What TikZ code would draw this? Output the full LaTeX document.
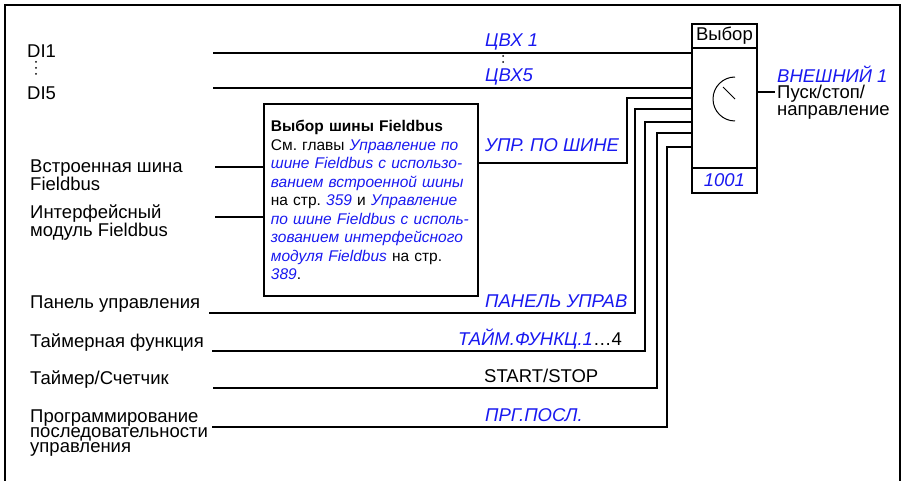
\documentclass[tikz,border=0pt]{standalone}
\usepackage{fontspec}
\setmainfont{Liberation Sans}
\frenchspacing
\definecolor{refblue}{RGB}{25,25,240}
\newcommand{\refbl}[1]{{\color{refblue}\itshape #1}}
\begin{document}
\begin{tikzpicture}[x=1pt, y=-1pt,
  wire/.style={line width=1.8pt},
  lbl/.style={anchor=west, inner sep=0pt, align=left, font=\fontsize{18.5}{16}\selectfont},
  sig/.style={lbl, text=refblue, font=\fontsize{18.5}{16}\selectfont\itshape},
  blk/.style={draw, wire, minimum width=65, anchor=north west, inner sep=0pt, font=\fontsize{18.5}{16}\selectfont}
]
\useasboundingbox (0,0) rectangle (903,481);
\draw[line width=1.2pt] (5,481) -- (5,5) -- (900,5) -- (900,481);

\node[blk, minimum height=24] (selhead) at (691,23) {Выбор};
\node[blk, minimum height=120] (selbody) at (691,47) {};
\node[blk, minimum height=25, text=refblue, font=\fontsize{18.5}{16}\selectfont\itshape] (selfoot) at (691,167) {1001};
\draw[line width=1pt] (735,121) arc[start angle=90, end angle=270, radius=22];
\draw[line width=1pt] (735,99) -- (723,87);

\node[draw, wire, anchor=north west, minimum width=214, minimum height=192, text width=200,
  inner xsep=7, align=left, font=\fontsize{15.5}{18.5}\selectfont] (fbsel) at (263,103) {%
  \textbf{Выбор шины Fieldbus}\\
  См. главы \refbl{Управление по}\\
  \refbl{шине Fieldbus с использо-}\\
  \refbl{ванием встроенной шины}\\
  на стр. \refbl{359} и \refbl{Управление}\\
  \refbl{по шине Fieldbus с исполь-}\\
  \refbl{зованием интерфейсного}\\
  \refbl{модуля Fieldbus} на стр.\\
  \refbl{389}.};

\node[lbl] (ldi1) at (27,51) {DI1};
\node[lbl] (ldi5) at (27,93) {DI5};
\foreach \yy in {62,68,74} \fill (36,\yy) circle (1);
\node[lbl] (lfbint) at (30,175) {Встроенная шина\\Fieldbus};
\node[lbl] (lfbext) at (30,222.5) {Интерфейсный\\модуль Fieldbus};
\node[lbl] (lpan) at (30,304) {Панель управления};
\node[lbl] (ltfn) at (30,343) {Таймерная функция};
\node[lbl] (ltcn) at (30,380) {Таймер/Счетчик};
\node[lbl, font=\fontsize{18.5}{15}\selectfont] (lseq) at (30,433.5) {Программирование\\последовательности\\управления};

\coordinate (di1) at (213,53);
\coordinate (di5) at (213,88);
\coordinate (fbint) at (215,167);
\coordinate (fbext) at (215,217);
\coordinate (pan) at (209,313);
\coordinate (tfn) at (212,351);
\coordinate (tcn) at (213,388);
\coordinate (seq) at (212,427);

\draw[wire] (di1) -- (di1 -| selbody.west);
\draw[wire] (di5) -- (di5 -| selbody.west);
\draw[wire] (fbint) -- (fbint -| fbsel.west);
\draw[wire] (fbext) -- (fbext -| fbsel.west);
\draw[wire] (fbsel.east |- 0,163) -| (627,98) -- (selbody.west |- 0,98);
\foreach \src/\xx/\yy in {pan/635/109, tfn/645/122, tcn/657/133, seq/667/147}
  \draw[wire] (\src) -| (\xx,\yy) -- (selbody.west |- 0,\yy);
\draw[wire] (selbody.east |- 0,92) -- ++(17,0) coordinate (selout);

\node[sig] (scvx1) at (485,42) {ЦВХ 1};
\node[sig] (scvx5) at (485,77) {ЦВХ5};
\foreach \yy in {56,62} \fill (503,\yy) circle (1);
\node[sig] (supr) at (485,145) {УПР. ПО ШИНЕ};
\node[sig] (span) at (485,301) {ПАНЕЛЬ УПРАВ};
\node[sig] (stfn) at (458,339) {ТАЙМ.ФУНКЦ.1\upshape\color{black}…4};
\node[lbl] (stcn) at (484,376) {START/STOP};
\node[sig] (sseq) at (485,415) {ПРГ.ПОСЛ.};
\node[lbl, font=\fontsize{18.5}{16.5}\selectfont] (outlbl) at (777,92.5) {\refbl{ВНЕШНИЙ 1}\\Пуск/стоп/\\направление};
\end{tikzpicture}
\end{document}
